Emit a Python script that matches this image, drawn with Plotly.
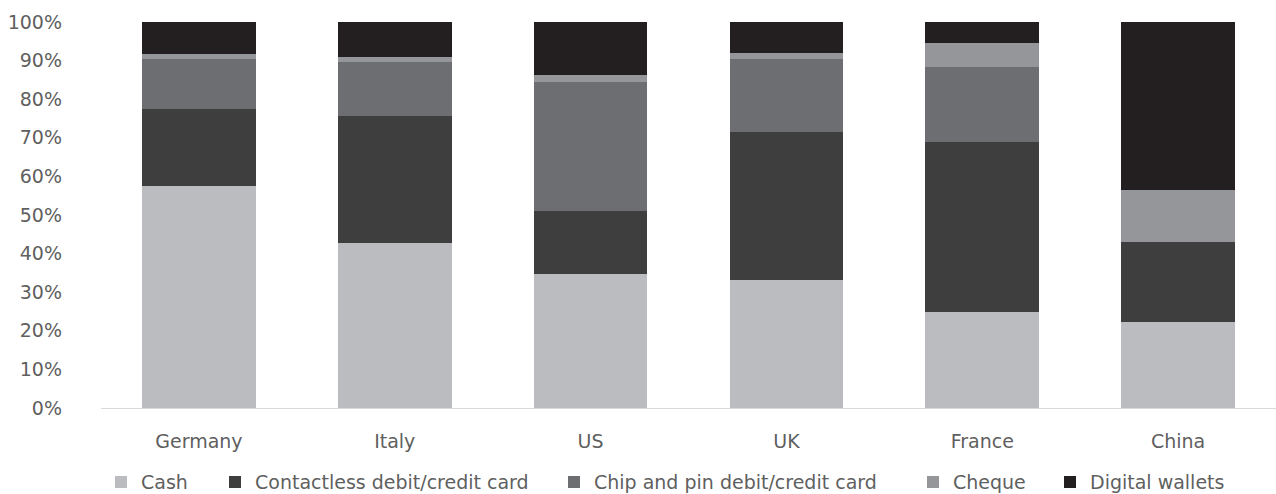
import plotly.graph_objects as go

countries = ["Germany", "Italy", "US", "UK", "France", "China"]
cash = [57.5, 42.7, 34.6, 33.1, 24.8, 22.2]
contactless = [20.0, 32.9, 16.4, 38.4, 44.1, 20.7]
chip_pin = [12.9, 14.0, 33.4, 18.9, 19.4, 0.0]
cheque = [1.3, 1.3, 1.9, 1.5, 6.3, 13.5]
digital = [8.3, 9.1, 13.7, 8.1, 5.4, 43.6]

series = [
    ("Cash", cash, "#BBBCC0"),
    ("Contactless debit/credit card", contactless, "#3E3E3E"),
    ("Chip and pin debit/credit card", chip_pin, "#6D6E72"),
    ("Cheque", cheque, "#959699"),
    ("Digital wallets", digital, "#231F20"),
]
# left edge (px) of each legend entry, one legend per series
legend_x_px = [101, 215, 554, 913, 1050]

FONT = "DejaVu Sans"
TEXT = "#5F5F5F"

fig = go.Figure()
legend_layout = {}
for i, (name, vals, color) in enumerate(series):
    key = "legend" if i == 0 else f"legend{i + 1}"
    fig.add_trace(go.Bar(
        x=countries, y=[v / 100 for v in vals], name=name,
        marker=dict(color=color, line=dict(width=0)),
        legend=key,
    ))
    legend_layout[key] = dict(
        orientation="h", xref="container", x=legend_x_px[i] / 1276,
        xanchor="left", yref="container", y=0.024, yanchor="middle",
        font=dict(family=FONT, size=19, color=TEXT),
        itemclick=False, bgcolor="rgba(0,0,0,0)",
    )

fig.update_layout(
    barmode="stack",
    bargap=0.42,
    width=1276, height=494,
    margin=dict(l=101, r=0, t=22, b=86, autoexpand=False),
    paper_bgcolor="white", plot_bgcolor="white",
    font=dict(family=FONT, size=19, color=TEXT),
    showlegend=True,
    yaxis=dict(
        range=[0, 1], tickvals=[i / 10 for i in range(11)],
        tickformat=".0%", showgrid=False, zeroline=False, showline=False,
        ticks="", ticklabelstandoff=38,
    ),
    xaxis=dict(
        showgrid=False, showline=True, linecolor="#D9D9D9", linewidth=1,
        ticks="", ticklabelstandoff=16,
    ),
    **legend_layout,
)

fig.write_html("out.html")
